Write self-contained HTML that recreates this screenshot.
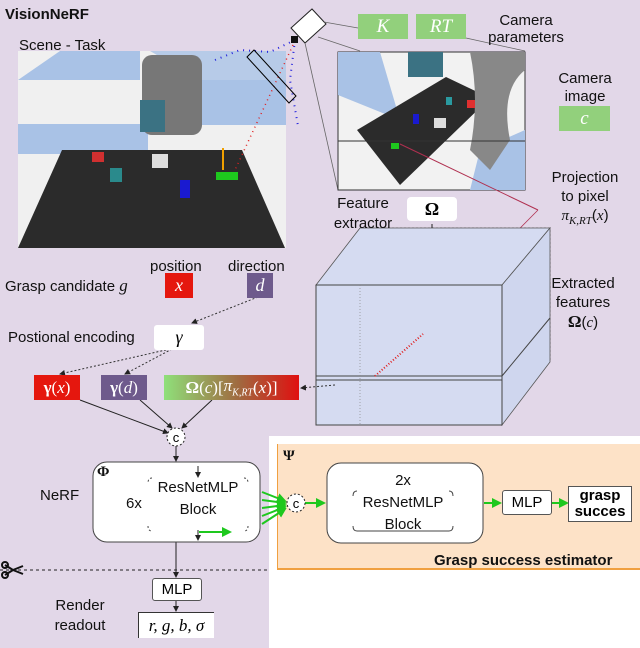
<!DOCTYPE html>
<html><head><style>
body{margin:0;width:640px;height:648px;background:#fff;position:relative;overflow:hidden;font-family:"Liberation Sans",sans-serif;}
.a{position:absolute;}
.t{position:absolute;font-size:15px;color:#111;white-space:nowrap;line-height:17px;}
.m{font-family:"Liberation Serif",serif;font-style:italic;}
.box{position:absolute;display:flex;align-items:center;justify-content:center;}
</style></head><body>
<div class="a" style="left:0;top:0;width:640px;height:436px;background:#e2d7e8;"></div>
<div class="a" style="left:0;top:436px;width:269px;height:212px;background:#e2d7e8;"></div>
<div class="a" style="left:277px;top:444px;width:363px;height:124px;background:#fde2c7;border-left:1px solid #f0a040;border-bottom:2px solid #f0a040;"></div>

<svg class="a" style="left:0;top:0" width="640" height="648">
<defs>
<marker id="ar" markerWidth="6" markerHeight="6" refX="5" refY="3" orient="auto"><path d="M0,0L6,3L0,6z" fill="#222"/></marker>
<marker id="ag" markerWidth="5" markerHeight="5" refX="4" refY="2.5" orient="auto"><path d="M0,0L5,2.5L0,5z" fill="#1ec81e"/></marker>
</defs>
<rect x="18" y="51" width="268" height="197" fill="#f0f0f0"/>
<polygon points="18,80 60,51 140,51 140,80" fill="#a9c2e6"/>
<polygon points="150,80 286,80 286,125 150,125" fill="#a9c2e6"/>
<polygon points="150,51 286,51 286,80 200,80" fill="#a9c2e6" opacity="0.8"/>
<rect x="18" y="124" width="130" height="30" fill="#a9c2e6"/>
<polygon points="62,150 242,150 285,248 18,248" fill="#2b2b2b"/>
<rect x="142" y="55" width="60" height="80" rx="10" fill="#777"/>
<rect x="140" y="100" width="25" height="32" fill="#3b7283"/>
<rect x="152" y="154" width="16" height="14" fill="#ddd"/>
<rect x="92" y="152" width="12" height="10" fill="#d03030"/>
<rect x="110" y="168" width="12" height="14" fill="#2a8a8c"/>
<rect x="180" y="180" width="10" height="18" fill="#1a1ad0"/>
<rect x="216" y="172" width="22" height="8" fill="#1ec81e"/>
<line x1="223" y1="148" x2="223" y2="170" stroke="#f0a000" stroke-width="2"/>
<polyline points="215,60 240,50 270,52 295,40" fill="none" stroke="#2222dd" stroke-width="2" stroke-dasharray="1 5"/>
<polyline points="295,40 290,80 298,126" fill="none" stroke="#2222dd" stroke-width="2" stroke-dasharray="1 5"/>
<line x1="293" y1="45" x2="235" y2="170" stroke="#e02020" stroke-width="1.5" stroke-dasharray="1 4"/>
<polygon points="247,57 254,50 296,96 289,103" fill="none" stroke="#000" stroke-width="1"/>
<polygon points="291,28 312,9 326,24 305,43" fill="#fff" stroke="#222"/>
<rect x="291" y="36" width="7" height="7" fill="#111"/>
<line x1="324" y1="22" x2="358" y2="28" stroke="#666" stroke-width="0.8"/>
<line x1="305" y1="43" x2="338" y2="190" stroke="#666" stroke-width="0.8"/>
<line x1="318" y1="37" x2="360" y2="51" stroke="#666" stroke-width="0.8"/>
<line x1="466" y1="38" x2="525" y2="51" stroke="#666" stroke-width="0.8"/>
<rect x="338" y="52" width="187" height="138" fill="#f2f2f2" stroke="#333"/>
<polygon points="338,52 380,52 400,120 338,95" fill="#a9c2e6"/>
<polygon points="480,150 525,130 525,190 470,190" fill="#a9c2e6"/>
<polygon points="357,130 446,77 490,98 400,185" fill="#2b2b2b"/>
<path d="M470,52 L525,52 L525,70 Q500,90 510,140 L490,170 L470,150 Q480,100 470,52z" fill="#888"/>
<rect x="408" y="52" width="35" height="25" fill="#3b7283"/>
<line x1="338" y1="141" x2="525" y2="141" stroke="#333"/>
<rect x="391" y="143" width="8" height="6" fill="#1ec81e"/>
<rect x="446" y="97" width="6" height="8" fill="#2a9aa0"/>
<rect x="467" y="100" width="8" height="8" fill="#e03030"/>
<rect x="413" y="114" width="6" height="10" fill="#1a1ad0"/>
<rect x="434" y="118" width="12" height="10" fill="#ddd"/>
<line x1="400" y1="144" x2="538" y2="210" stroke="#b03050"/>
<line x1="538" y1="210" x2="375" y2="375" stroke="#b03050" stroke-width="0.8"/>
<polygon points="360,228 550,228 550,362 360,362" fill="#d5dbf1" stroke="#555" stroke-dasharray="2 2" stroke-width="0.8"/>
<polygon points="316,285 360,228 550,228 502,285" fill="#d5dbf1" stroke="#555" stroke-width="0.8"/>
<polygon points="502,285 550,228 550,362 502,425" fill="#cfd6ee" stroke="#555" stroke-width="0.8"/>
<rect x="316" y="285" width="186" height="140" fill="#d5dbf1" stroke="#444" stroke-width="1"/>
<line x1="316" y1="376" x2="502" y2="376" stroke="#444"/>
<line x1="316" y1="380" x2="502" y2="380" stroke="#444"/>
<line x1="502" y1="376" x2="550" y2="318" stroke="#444"/>
<line x1="360" y1="285" x2="360" y2="425" stroke="#888" stroke-dasharray="1 2" stroke-width="0.7"/>
<line x1="375" y1="376" x2="423" y2="334" stroke="#e02020" stroke-width="2" stroke-dasharray="1 2"/>
<line x1="432" y1="224" x2="432" y2="228" stroke="#222"/>
<line x1="258" y1="297" x2="192" y2="323" stroke="#333" stroke-dasharray="2 2" marker-end="url(#ar)"/>
<line x1="170" y1="349" x2="60" y2="374" stroke="#333" stroke-dasharray="2 2" marker-end="url(#ar)"/>
<line x1="172" y1="349" x2="125" y2="374" stroke="#333" stroke-dasharray="2 2" marker-end="url(#ar)"/>
<line x1="335" y1="385" x2="301" y2="388" stroke="#333" stroke-dasharray="2 2" marker-end="url(#ar)"/>
<line x1="80" y1="400" x2="168" y2="433" stroke="#222" marker-end="url(#ar)"/>
<line x1="140" y1="400" x2="172" y2="428" stroke="#222" marker-end="url(#ar)"/>
<line x1="212" y1="400" x2="182" y2="428" stroke="#222" marker-end="url(#ar)"/>
<line x1="176" y1="446" x2="176" y2="461" stroke="#222" marker-end="url(#ar)"/>
<line x1="176" y1="542" x2="176" y2="577" stroke="#222" marker-end="url(#ar)"/>
<line x1="176" y1="600" x2="176" y2="611" stroke="#222" marker-end="url(#ar)"/>
<line x1="0" y1="570" x2="268" y2="570" stroke="#222" stroke-dasharray="3 3"/>
<circle cx="176" cy="437" r="9" fill="#fff" stroke="#222" stroke-dasharray="2 2"/>
<text x="176" y="442" font-size="13" text-anchor="middle" font-family="Liberation Sans">c</text>
<rect x="93" y="462" width="167" height="80" rx="14" fill="#fff" stroke="#444"/>
<path d="M152,478 Q148,478 148,483 M244,478 Q248,478 248,483 M148,526 Q148,531 152,531 M248,526 Q248,531 244,531" stroke="#444" fill="none" stroke-dasharray="2 2"/>
<line x1="198" y1="466" x2="198" y2="477" stroke="#222" marker-end="url(#ar)"/>
<line x1="198" y1="530" x2="198" y2="540" stroke="#222" marker-end="url(#ar)"/>
<line x1="199" y1="532" x2="230" y2="532" stroke="#1ec81e" stroke-width="2" marker-end="url(#ag)"/>
<g stroke="#1ec81e" stroke-width="2">
<line x1="262" y1="492" x2="285" y2="501" marker-end="url(#ag)"/>
<line x1="262" y1="500" x2="285" y2="503" marker-end="url(#ag)"/>
<line x1="262" y1="508" x2="285" y2="505" marker-end="url(#ag)"/>
<line x1="262" y1="516" x2="285" y2="507" marker-end="url(#ag)"/>
<line x1="262" y1="524" x2="285" y2="509" marker-end="url(#ag)"/>
<line x1="305" y1="503" x2="324" y2="503" marker-end="url(#ag)"/>
<line x1="332" y1="509" x2="351" y2="509" marker-end="url(#ag)"/>
<line x1="455" y1="509" x2="474" y2="509" marker-end="url(#ag)"/>
<line x1="484" y1="503" x2="500" y2="503" marker-end="url(#ag)"/>
<line x1="552" y1="503" x2="567" y2="503" marker-end="url(#ag)"/>
</g>
<circle cx="296" cy="503" r="9" fill="#fff" stroke="#222" stroke-dasharray="2 2"/>
<text x="296" y="508" font-size="13" text-anchor="middle" font-family="Liberation Sans">c</text>
<rect x="327" y="463" width="156" height="80" rx="14" fill="#fff" stroke="#444"/>
<path d="M357,491 Q353,491 353,496 M449,491 Q453,491 453,496 M353,526 Q353,531 357,531 L449,531 Q453,531 453,526" stroke="#444" fill="none"/>
<path d="M5,565 l8,5 M5,575 l8,-5 M13,570 l10,-4 M13,570 l10,4" stroke="#111" stroke-width="2"/>
<circle cx="5" cy="565" r="3" fill="none" stroke="#111" stroke-width="2"/>
<circle cx="5" cy="575" r="3" fill="none" stroke="#111" stroke-width="2"/>
</svg>

<div class="t" style="left:5px;top:6px;font-weight:bold;font-size:15px;">VisionNeRF</div>
<div class="t" style="left:19px;top:37px;">Scene - Task</div>
<div class="box m" style="left:358px;top:14px;width:50px;height:25px;background:#92d07c;color:#fff;font-size:19px;">K</div>
<div class="box m" style="left:416px;top:14px;width:50px;height:25px;background:#92d07c;color:#fff;font-size:19px;">RT</div>
<div class="t" style="left:484px;top:12px;width:84px;text-align:center;">Camera<br>parameters</div>
<div class="t" style="left:555px;top:70px;width:60px;text-align:center;line-height:18px;">Camera<br>image</div>
<div class="box m" style="left:559px;top:106px;width:51px;height:25px;background:#92d07c;color:#fff;font-size:19px;">c</div>
<div class="t" style="left:330px;top:194px;line-height:20px;text-align:center;width:66px;">Feature<br>extractor</div>
<div class="box" style="left:407px;top:197px;width:50px;height:24px;background:#fff;border-radius:4px;font-weight:bold;font-family:'Liberation Serif',serif;font-size:18px;">Ω</div>
<div class="t" style="left:545px;top:168px;width:80px;text-align:center;line-height:19px;">Projection<br>to pixel<br><span class="m">π<sub style="font-size:11px">K,RT</sub></span>(<span class="m">x</span>)</div>
<div class="t" style="left:548px;top:274px;width:70px;text-align:center;line-height:19px;">Extracted<br>features<br><b style="font-family:'Liberation Serif',serif;font-size:17px">Ω</b>(<span class="m">c</span>)</div>
<div class="t" style="left:5px;top:277px;">Grasp candidate <span class="m" style="font-size:17px">g</span></div>
<div class="t" style="left:150px;top:258px;">position</div>
<div class="t" style="left:228px;top:258px;">direction</div>
<div class="box m" style="left:165px;top:273px;width:28px;height:25px;background:#e5170e;color:#fff;font-size:18px;">x</div>
<div class="box m" style="left:247px;top:273px;width:26px;height:25px;background:#6e5a8c;color:#fff;font-size:18px;">d</div>
<div class="t" style="left:8px;top:329px;">Postional encoding</div>
<div class="box m" style="left:154px;top:325px;width:50px;height:25px;background:#fff;border-radius:3px;font-size:18px;">γ</div>
<div class="box" style="left:34px;top:375px;width:46px;height:25px;background:#e5170e;color:#fff;font-size:17px;font-family:'Liberation Serif',serif;"><b>γ</b>(<i>x</i>)</div>
<div class="box" style="left:101px;top:375px;width:46px;height:25px;background:#6e5a8c;color:#fff;font-size:17px;font-family:'Liberation Serif',serif;"><b>γ</b>(<i>d</i>)</div>
<div class="box" style="left:164px;top:375px;width:135px;height:25px;background:linear-gradient(90deg,#8fe07a,#a06a40 55%,#e01010);color:#fff;font-size:17px;font-family:'Liberation Serif',serif;"><b>Ω</b>(<i>c</i>)[<i>π<sub style="font-size:10px">K,RT</sub></i>(<i>x</i>)]</div>
<div class="t" style="left:40px;top:487px;">NeRF</div>
<div class="t" style="left:97px;top:464px;font-family:'Liberation Serif',serif;font-weight:bold;">Φ</div>
<div class="t" style="left:126px;top:495px;">6x</div>
<div class="t" style="left:150px;top:477px;width:96px;text-align:center;line-height:22px;">ResNetMLP<br>Block</div>
<div class="t" style="left:283px;top:448px;font-family:'Liberation Serif',serif;font-weight:bold;">Ψ</div>
<div class="t" style="left:355px;top:470px;width:96px;text-align:center;line-height:22px;">2x<br>ResNetMLP<br>Block</div>
<div class="box" style="left:502px;top:490px;width:50px;height:25px;background:#fff;border-radius:3px;font-size:15px;border:1px solid #555;box-sizing:border-box;">MLP</div>
<div class="box" style="left:568px;top:486px;width:64px;height:36px;background:#fff;border:1px solid #555;box-sizing:border-box;font-weight:bold;font-size:15px;text-align:center;line-height:16px;">grasp<br>succes</div>
<div class="t" style="left:434px;top:552px;font-weight:bold;">Grasp success estimator</div>
<div class="box" style="left:152px;top:578px;width:50px;height:23px;background:#fff;border:1px solid #555;box-sizing:border-box;font-size:15px;border-radius:3px;">MLP</div>
<div class="t" style="left:50px;top:596px;width:60px;text-align:center;line-height:20px;">Render<br>readout</div>
<div class="box m" style="left:138px;top:612px;width:76px;height:26px;background:#fff;border-left:1px solid #333;border-top:1px solid #333;box-sizing:border-box;font-size:17px;">r, g, b, σ</div>
</body></html>
